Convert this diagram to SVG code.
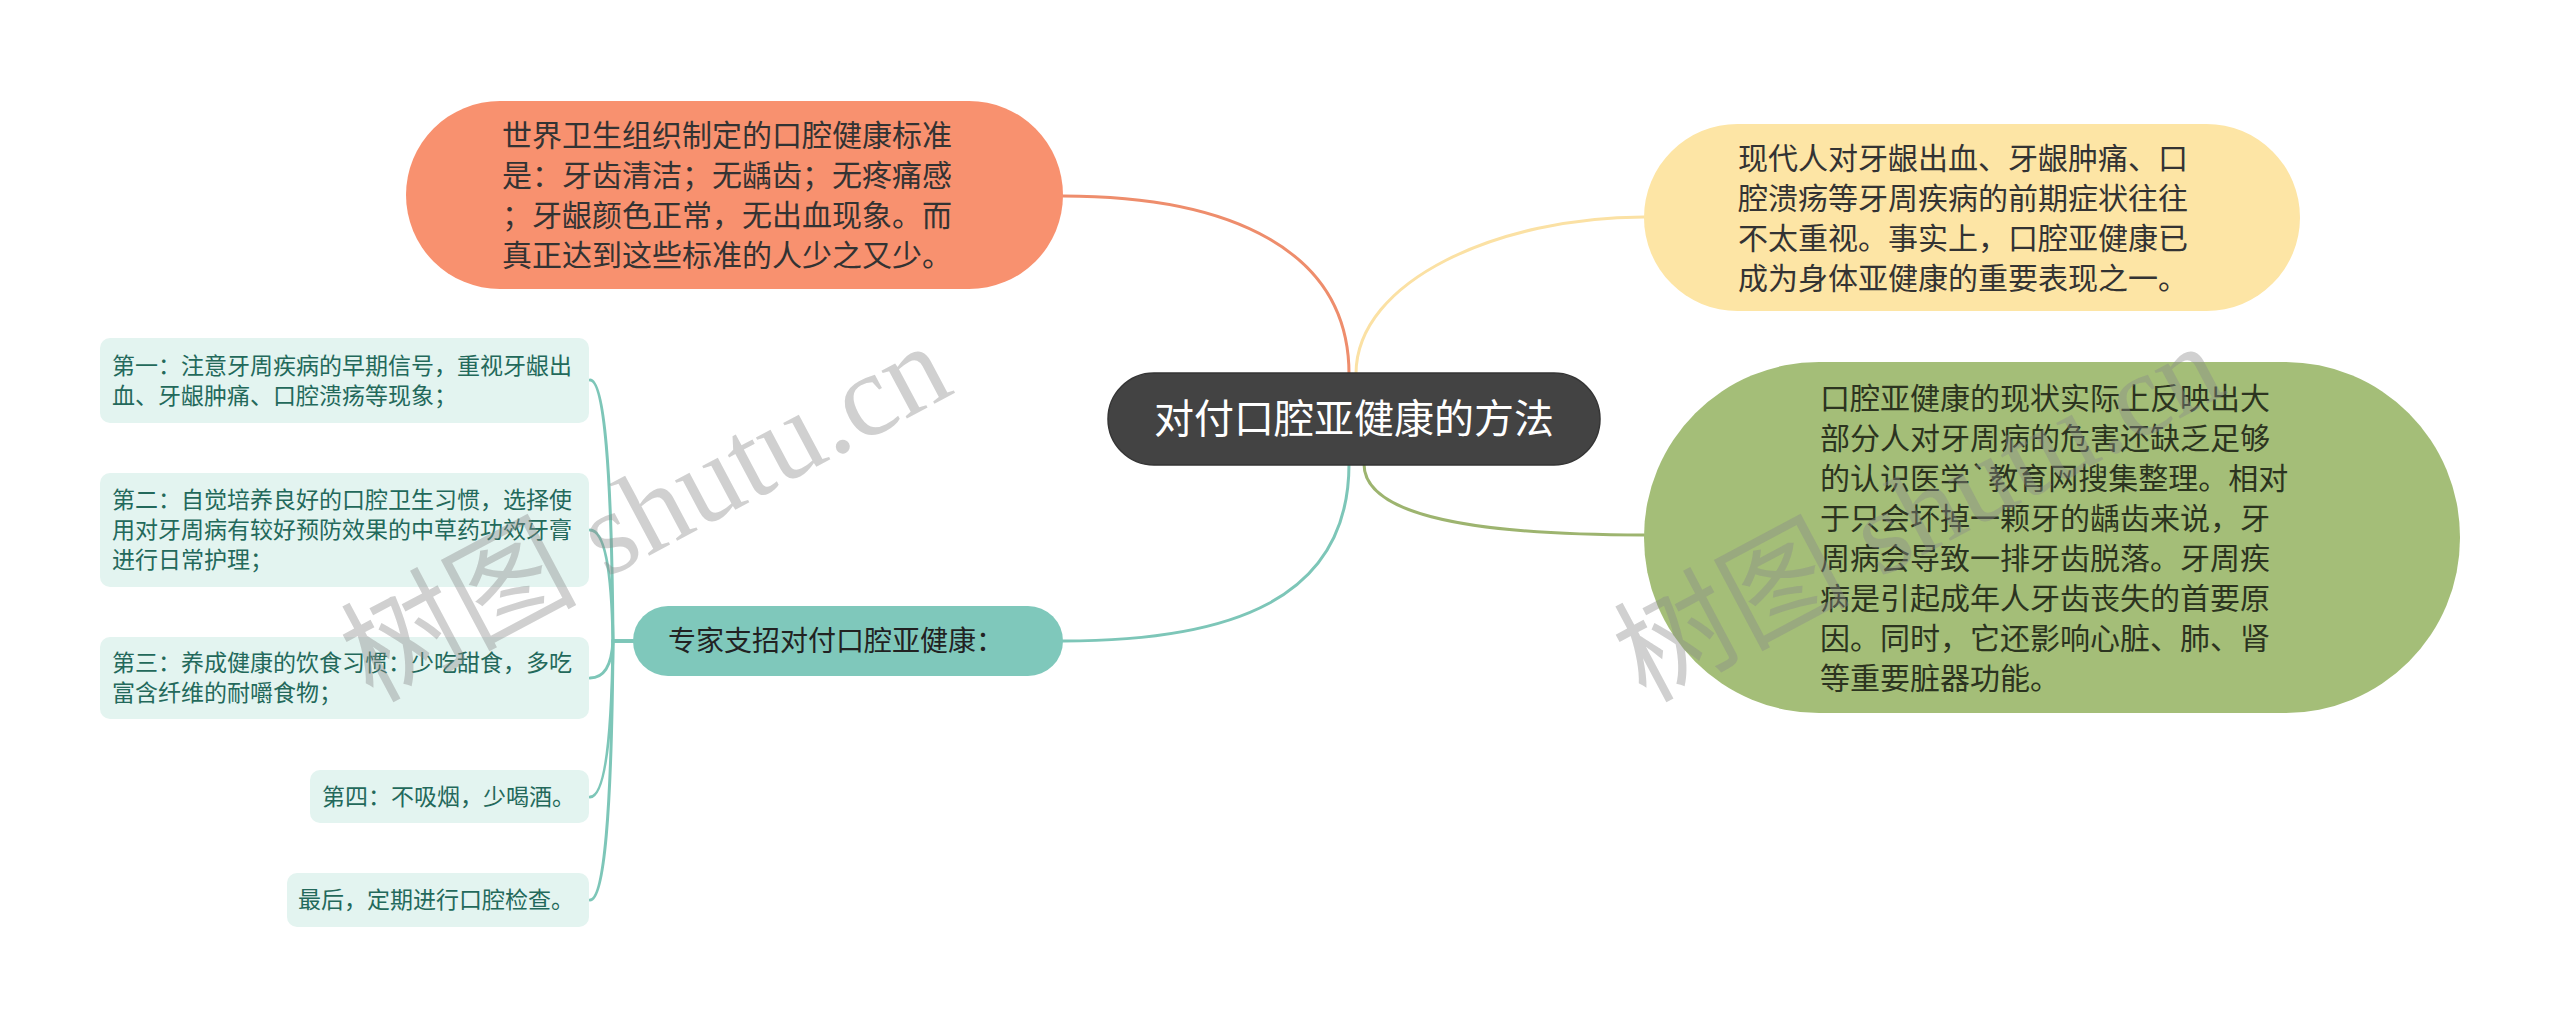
<svg xmlns="http://www.w3.org/2000/svg" width="2560" height="1027" viewBox="0 0 2560 1027">
<style>
  .t { font-family: "Noto Sans CJK SC", "Liberation Sans", sans-serif; }
  .big { font-size: 30px; fill: #333333; }
  .item { fill: #E3F4F0; }
  .itxt { font-size: 23px; fill: #23695B; }
  .con { fill: none; stroke-width: 3; stroke-linecap: round; }
  .wm { font-family: "Liberation Serif", "Noto Sans CJK SC", serif; font-size: 118px; fill: #8a8a8a; fill-opacity: 0.4; }
</style>
<rect width="2560" height="1027" fill="#ffffff"/>
<g id="connectors">
  <path class="con" stroke="#EE8D6C" d="M1349,374 C1349,250 1230,196 1063,196"/>
  <path class="con" stroke="#FBE1A4" d="M1356,374 C1356,280 1500,217 1644,217"/>
  <path class="con" stroke="#9DB46F" d="M1364,464 C1364,510 1450,535 1644,535"/>
  <path class="con" stroke="#7DC6B8" d="M1349,464 C1349,600 1230,641 1063,641"/>
  <path class="con" stroke="#7DC6B8" d="M633,641 L613,641 Q611,380 590,380"/>
  <path class="con" stroke="#7DC6B8" d="M633,641 L613,641 Q611,530 590,530"/>
  <path class="con" stroke="#7DC6B8" d="M633,641 L613,641 Q611,678 590,678"/>
  <path class="con" stroke="#7DC6B8" d="M633,641 L613,641 Q611,797 590,797"/>
  <path class="con" stroke="#7DC6B8" d="M633,641 L613,641 Q611,900 590,900"/>
</g>
<g id="central">
  <rect x="1108" y="373" width="492" height="92" rx="46" fill="#434343" stroke="#353535" stroke-width="1.5"/>
  <text class="t" x="1354" y="433" font-size="40" fill="#ffffff" text-anchor="middle">对付口腔亚健康的方法</text>
</g>
<g id="node-who">
  <rect x="406" y="101" width="657" height="188" rx="94" fill="#F8916F"/>
  <text class="t big"><tspan x="502" y="146">世界卫生组织制定的口腔健康标准</tspan><tspan x="502" y="186">是：牙齿清洁；无龋齿；无疼痛感</tspan><tspan x="502" y="226">；牙龈颜色正常，无出血现象。而</tspan><tspan x="502" y="266">真正达到这些标准的人少之又少。</tspan></text>
</g>
<g id="node-modern">
  <rect x="1644" y="124" width="656" height="187" rx="93.5" fill="#FDE5A5"/>
  <text class="t big"><tspan x="1738" y="169">现代人对牙龈出血、牙龈肿痛、口</tspan><tspan x="1738" y="209">腔溃疡等牙周疾病的前期症状往往</tspan><tspan x="1738" y="249">不太重视。事实上，口腔亚健康已</tspan><tspan x="1738" y="289">成为身体亚健康的重要表现之一。</tspan></text>
</g>
<g id="node-status">
  <rect x="1644" y="362" width="816" height="351" rx="175" fill="#A4BE78"/>
  <text class="t big" style="fill:#2C3420"><tspan x="1820" y="409">口腔亚健康的现状实际上反映出大</tspan><tspan x="1820" y="449">部分人对牙周病的危害还缺乏足够</tspan><tspan x="1820" y="489">的认识医学`教育网搜集整理。相对</tspan><tspan x="1820" y="529">于只会坏掉一颗牙的龋齿来说，牙</tspan><tspan x="1820" y="569">周病会导致一排牙齿脱落。牙周疾</tspan><tspan x="1820" y="609">病是引起成年人牙齿丧失的首要原</tspan><tspan x="1820" y="649">因。同时，它还影响心脏、肺、肾</tspan><tspan x="1820" y="689">等重要脏器功能。</tspan></text>
</g>
<g id="node-expert">
  <rect x="633" y="606" width="430" height="70" rx="35" fill="#7FC8BB"/>
  <text class="t" x="668" y="651" font-size="28" fill="#222222">专家支招对付口腔亚健康：</text>
</g>
<g id="item-1">
  <rect class="item" x="100" y="338" width="489" height="85" rx="10"/>
  <text class="t itxt"><tspan x="112" y="374">第一：注意牙周疾病的早期信号，重视牙龈出</tspan><tspan x="112" y="404">血、牙龈肿痛、口腔溃疡等现象；</tspan></text>
</g>
<g id="item-2">
  <rect class="item" x="100" y="473" width="489" height="114" rx="10"/>
  <text class="t itxt"><tspan x="112" y="508">第二：自觉培养良好的口腔卫生习惯，选择使</tspan><tspan x="112" y="538">用对牙周病有较好预防效果的中草药功效牙膏</tspan><tspan x="112" y="568">进行日常护理；</tspan></text>
</g>
<g id="item-3">
  <rect class="item" x="100" y="637" width="489" height="82" rx="10"/>
  <text class="t itxt"><tspan x="112" y="671">第三：养成健康的饮食习惯：少吃甜食，多吃</tspan><tspan x="112" y="701">富含纤维的耐嚼食物；</tspan></text>
</g>
<g id="item-4">
  <rect class="item" x="310" y="770" width="279" height="53" rx="10"/>
  <text class="t itxt" x="322" y="805">第四：不吸烟，少喝酒。</text>
</g>
<g id="item-5">
  <rect class="item" x="287" y="873" width="302" height="54" rx="10"/>
  <text class="t itxt" x="298" y="908">最后，定期进行口腔检查。</text>
</g>
<g id="watermark">
  <text class="wm" transform="translate(372,703) rotate(-28)">树图 shutu.cn</text>
  <text class="wm" transform="translate(1645,703) rotate(-28)">树图 shutu.cn</text>
</g>
</svg>
